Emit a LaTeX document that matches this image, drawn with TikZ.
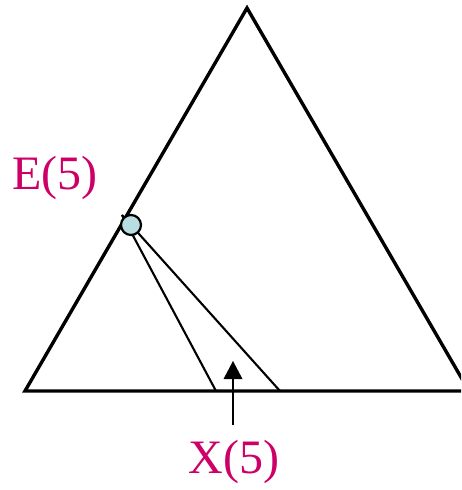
\documentclass[tikz,border=0pt]{standalone}
\usepackage{fontspec}
\setmainfont{Liberation Serif}
\usetikzlibrary{arrows.meta, positioning, calc}
\definecolor{labelred}{RGB}{204,0,102}
\definecolor{pointfill}{RGB}{184,222,226}
\tikzset{
  side/.style  = {line width=3.4pt, line join=miter},
  ray/.style   = {line width=2.1pt},
  arrow/.style = {line width=2.2pt, -{Triangle[length=18pt,width=19pt,line width=0pt]}},
  point/.style = {circle, draw, line width=2.2pt, fill=pointfill,
    minimum size=20pt, inner sep=0pt},
  lbl/.style   = {text=labelred, font=\fontsize{48}{48}\selectfont},
}

\begin{document}
\begin{tikzpicture}[x=1pt, y=-1pt]
  \useasboundingbox (0,0) rectangle (461,490);

  % Triangle corners
  \coordinate (top)   at (247,8);
  \coordinate (left)  at (25,391);
  \coordinate (right) at (469,391);

  % Foot points on the base
  \coordinate (f1) at (216,391);
  \coordinate (f2) at (280,391);
  \coordinate (src) at (122,215);

  \begin{scope}
    \clip (0,0) rectangle (461,490);
    \draw[side] (left) -- (top) -- (right) -- cycle;
  \end{scope}

  % Rays from E(5)
  \draw[ray] (src) -- (f1);
  \draw[ray] (src) -- (f2);
  \node[point] (e5) at (131,225) {};

  % Labels
  \node[lbl] (elbl) at (55,178) {E(5)};
  \node[lbl] (xlbl) at (234,462) {X(5)};
  \coordinate (tip)  at (233,361);
  \coordinate (base) at (233,425);
  \draw[arrow] (base) -- (tip);
\end{tikzpicture}
\end{document}
